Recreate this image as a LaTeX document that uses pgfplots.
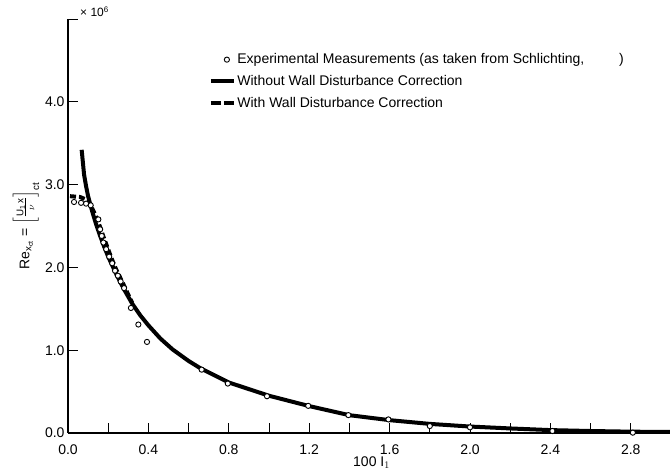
\documentclass[border=0pt]{standalone}
\usepackage{fontspec}
\setmainfont{Liberation Sans}
\usepackage{amsmath}
\usepackage{pgfplots}
\pgfplotsset{compat=1.18}
\pgfplotsset{
  markleg/.style={legend image code/.code={\path (0pt,0pt) (23pt,0pt); \draw[##1] plot coordinates {(16pt,0pt)};}},
  lineleg/.style={legend image code/.code={\draw[##1] (0pt,0pt) -- (23pt,0pt);}},
}

\begin{document}
\begin{tikzpicture}[x=1pt,y=1pt]
\begin{axis}[
  at={(0,0)}, anchor=origin,
  scale only axis,
  width=603pt, height=414pt,
  xmin=0, xmax=3.0, ymin=0, ymax=5.0,
  clip=false,
  axis x line=bottom, axis y line=left,
  axis line style={-, line width=1.3pt},
  tick align=inside,
  major tick length=10pt, minor tick length=10pt,
  tick style={line width=0.8pt, black},
  xtick={0,0.4,0.8,1.2,1.6,2.0,2.4,2.8},
  xticklabels={0.0,0.4,0.8,1.2,1.6,2.0,2.4,2.8},
  minor xtick={0.2,0.6,1.0,1.4,1.8,2.2,2.6},
  ytick={0,1,2,3,4,5},
  yticklabels={0.0,1.0,2.0,3.0,4.0,},
  tick label style={font=\fontsize{14}{16}\selectfont},
  xticklabel style={yshift=-8pt},
  xlabel={100 $\mathrm{I}_1$},
  every axis x label/.style={at={(axis cs:1.51,0)}, yshift=-30pt, anchor=center, font=\fontsize{14}{16}\selectfont},
  ylabel={Re$_{\text{x}_{\text{ct}}}$ = $\Bigl[\frac{\text{U}_{\text{1}}\,\text{x}}{\nu}\Bigr]_{\text{ct}}$},
  every axis y label/.style={at={(axis description cs:0,0.5)}, xshift=-42pt, rotate=90, anchor=center, inner sep=0pt, font=\fontsize{14}{16}\selectfont},
  legend style={at={(axis cs:0.70,4.60)}, anchor=north west, draw=none, fill=none,
    font=\fontsize{14}{16}\selectfont, row sep=7pt, inner sep=0pt,
    nodes={inner sep=1.5pt}},
  legend cell align=left,
]
\addlegendimage{only marks, mark=*, mark size=2.6pt, mark options={fill=white, draw=black, line width=0.9pt}, markleg}
\addlegendentry{Experimental Measurements (as taken from Schlichting, \hspace{2.2em})}
\addlegendimage{black, line width=4pt, lineleg}
\addlegendentry{Without Wall Disturbance Correction}
\addlegendimage{black, line width=4pt, dash pattern=on 10pt off 3pt, lineleg}
\addlegendentry{With Wall Disturbance Correction}

% Without wall disturbance correction (solid)
\addplot[black, line width=4pt, forget plot] coordinates {
(0.068,3.42) (0.080,3.12) (0.090,2.98) (0.100,2.86) (0.120,2.68) (0.140,2.52)
(0.160,2.38) (0.180,2.25) (0.200,2.13) (0.240,1.92) (0.280,1.73) (0.320,1.56)
(0.360,1.42) (0.400,1.30) (0.460,1.14) (0.520,1.01) (0.600,0.87) (0.660,0.78)
(0.800,0.61) (1.000,0.45) (1.200,0.325) (1.400,0.215) (1.600,0.155) (1.800,0.11)
(2.000,0.078) (2.200,0.055) (2.400,0.035) (2.600,0.024) (2.800,0.016) (3.000,0.012)
};

% With wall disturbance correction (dashed)
\addplot[black, line width=4pt, dash pattern=on 6pt off 3pt, forget plot] coordinates {
(0.010,2.86) (0.060,2.85) (0.090,2.82) (0.115,2.74) (0.135,2.64) (0.155,2.52)
(0.175,2.38) (0.195,2.25) (0.215,2.12) (0.235,2.00) (0.255,1.90) (0.275,1.80)
(0.300,1.67) (0.320,1.57)
};

% Experimental measurements
\addplot[only marks, mark=*, mark size=2.6pt, mark options={fill=white, draw=black, line width=0.9pt}, forget plot] coordinates {
(0.030,2.79) (0.065,2.78) (0.090,2.77) (0.113,2.75) (0.151,2.58) (0.160,2.46)
(0.168,2.38) (0.176,2.30) (0.190,2.22) (0.205,2.13) (0.220,2.05) (0.234,1.96)
(0.248,1.90) (0.262,1.83) (0.279,1.75) (0.313,1.51) (0.350,1.31) (0.393,1.10)
(0.665,0.765) (0.795,0.597) (0.990,0.444) (1.195,0.328) (1.395,0.216) (1.594,0.164)
(1.800,0.084) (2.000,0.068) (2.410,0.024) (2.810,0.004)
};

\node[anchor=south west, inner sep=0pt, font=\fontsize{12}{14}\selectfont, xshift=12pt, yshift=2pt]
  at (axis cs:0,5) {× 10\textsuperscript{6}};
\end{axis}
\pgfresetboundingbox
\path[use as bounding box] (-68,-38) rectangle (602,433);
\end{tikzpicture}
\end{document}
